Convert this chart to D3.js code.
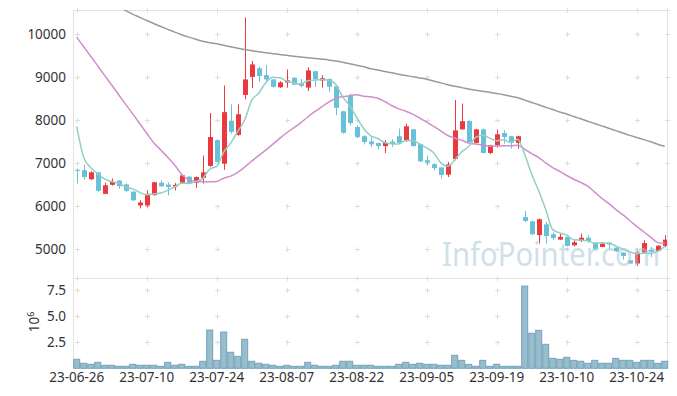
<!DOCTYPE html>
<html>
<head>
<meta charset="utf-8">
<script src="https://cdn.jsdelivr.net/npm/d3@7"></script>
<style>
    body { margin: 0; background: #fff; }
    svg text { font-family: "Noto Sans", "Liberation Sans", sans-serif; }
</style>
</head>
<body>
<svg id="chart" width="677" height="396"></svg>
<script>
// trading days 2023-06-26 .. 2023-10-30
const dates = [
    "23-06-26","23-06-27","23-06-28","23-06-29","23-06-30",
    "23-07-03","23-07-04","23-07-05","23-07-06","23-07-07",
    "23-07-10","23-07-11","23-07-12","23-07-13","23-07-14",
    "23-07-17","23-07-18","23-07-19","23-07-20","23-07-21",
    "23-07-24","23-07-25","23-07-26","23-07-27","23-07-28",
    "23-07-31","23-08-01","23-08-02","23-08-03","23-08-04",
    "23-08-07","23-08-08","23-08-09","23-08-10","23-08-11",
    "23-08-14","23-08-16","23-08-17","23-08-18","23-08-21",
    "23-08-22","23-08-23","23-08-24","23-08-25","23-08-28",
    "23-08-29","23-08-30","23-08-31","23-09-01","23-09-04",
    "23-09-05","23-09-06","23-09-07","23-09-08","23-09-11",
    "23-09-12","23-09-13","23-09-14","23-09-15","23-09-18",
    "23-09-19","23-09-20","23-09-21","23-09-22","23-09-25",
    "23-09-26","23-09-27","23-10-04","23-10-05","23-10-06",
    "23-10-10","23-10-11","23-10-12","23-10-13","23-10-16",
    "23-10-17","23-10-18","23-10-19","23-10-20","23-10-23",
    "23-10-24","23-10-25","23-10-26","23-10-27","23-10-30"
];

const open = [
    6850, 6840, 6630, 6790, 6290, 6500, 6600, 6510, 6340, 6020,
    6020, 6260, 6550, 6505, 6460, 6550, 6690, 6550, 6660, 6940,
    7540, 6990, 7990, 7660, 8590, 9010, 9210, 9050, 8950, 8770,
    8880, 8990, 8860, 8760, 9140, 8925, 8960, 8790, 8210, 8590,
    7845, 7630, 7510, 7470, 7400, 7505, 7630, 7520, 7790, 7450,
    7070, 6980, 6905, 6735, 7100, 7790, 7985, 7475, 7790, 7240,
    7420, 7705, 7630, 7475, 5750, 5650, 5330, 5580, 5350, 5225,
    5290, 5095, 5195, 5270, 5155, 5055, 5155, 5040, 4925, 4745,
    4670, 4925, 4990, 4960, 5080
];
const high = [
    6880, 6970, 6815, 6800, 6550, 6645, 6610, 6530, 6350, 6140,
    6370, 6570, 6600, 6560, 6540, 6740, 6700, 6690, 7180, 8170,
    7560, 8810, 8370, 8370, 10390, 9380, 9250, 9280, 8960, 8910,
    9180, 9000, 8960, 9230, 9150, 9050, 8975, 8800, 8220, 8620,
    7880, 7650, 7605, 7480, 7540, 7560, 7810, 7920, 7800, 7460,
    7180, 7000, 6910, 7030, 8470, 8390, 8000, 7800, 7810, 7430,
    7785, 7770, 7640, 7640, 5890, 5660, 5715, 5640, 5390, 5360,
    5300, 5210, 5365, 5330, 5160, 5150, 5160, 5045, 4930, 4750,
    4960, 5210, 5055, 5090, 5325
];
const low = [
    6530, 6620, 6605, 6340, 6280, 6480, 6410, 6330, 6120, 5950,
    5980, 6250, 6450, 6255, 6370, 6530, 6520, 6430, 6530, 6920,
    7020, 6850, 7690, 7640, 8490, 8750, 8890, 8890, 8760, 8750,
    8760, 8820, 8770, 8680, 8780, 8760, 8660, 8120, 7690, 7880,
    7580, 7440, 7380, 7330, 7240, 7380, 7470, 7500, 7390, 7030,
    6950, 6840, 6645, 6680, 7070, 7780, 7490, 7465, 7230, 7210,
    7365, 7460, 7340, 7340, 5635, 5340, 5135, 5135, 5210, 5220,
    5070, 5070, 5170, 5150, 4990, 5050, 5015, 4940, 4760, 4660,
    4610, 4900, 4820, 4950, 5055
];
const close = [
    6830, 6680, 6790, 6360, 6490, 6565, 6470, 6360, 6140, 6090,
    6290, 6560, 6465, 6450, 6500, 6720, 6530, 6680, 6790, 7610,
    7030, 8190, 7730, 8140, 8950, 9300, 9030, 8950, 8780, 8880,
    8930, 8830, 8800, 9160, 8960, 8980, 8780, 8290, 7710, 7935,
    7610, 7495, 7440, 7400, 7480, 7450, 7475, 7860, 7400, 7045,
    7015, 6890, 6730, 6975, 7765, 7980, 7495, 7790, 7240, 7420,
    7675, 7610, 7475, 7630, 5660, 5350, 5700, 5310, 5265, 5290,
    5080, 5165, 5270, 5195, 5000, 5130, 5110, 4955, 4845, 4670,
    4925, 5145, 4940, 5085, 5225
];
const volume = [
    860000, 480000, 380000, 570000, 290000, 290000, 190000, 190000, 380000, 290000,
    290000, 290000, 190000, 570000, 290000, 380000, 190000, 190000, 670000, 3650000,
    760000, 3460000, 1530000, 1140000, 2770000, 670000, 480000, 380000, 290000, 190000,
    290000, 190000, 190000, 570000, 290000, 190000, 190000, 290000, 670000, 670000,
    290000, 290000, 290000, 190000, 190000, 190000, 380000, 570000, 380000, 480000,
    380000, 380000, 290000, 290000, 1240000, 760000, 380000, 190000, 760000, 190000,
    380000, 190000, 190000, 190000, 7850000, 3340000, 3620000, 2290000, 950000, 860000,
    1050000, 760000, 670000, 480000, 760000, 480000, 480000, 950000, 760000, 760000,
    570000, 760000, 760000, 480000, 670000
];

// moving averages as shown on the chart
const ma5 = [
    7860, 7140, 6900, 6760, 6630, 6577, 6535, 6449, 6405, 6325,
    6270, 6288, 6309, 6371, 6453, 6539, 6533, 6576, 6644, 6866,
    6928, 7260, 7470, 7740, 8008, 8462, 8630, 8874, 9002, 8988,
    8914, 8874, 8844, 8920, 8936, 8946, 8936, 8834, 8544, 8339,
    8065, 7808, 7638, 7576, 7485, 7453, 7449, 7533, 7533, 7446,
    7359, 7242, 7016, 6931, 7075, 7268, 7389, 7601, 7654, 7585,
    7524, 7547, 7484, 7562, 7210, 6745, 6363, 5930, 5457, 5383,
    5329, 5222, 5214, 5200, 5142, 5152, 5141, 5078, 5008, 4942,
    4901, 4908, 4905, 4953, 5064
];
const ma20 = [
    9930, 9710, 9490, 9265, 9040, 8820, 8595, 8370, 8150, 7925,
    7700, 7480, 7310, 7140, 6960, 6740, 6620, 6580, 6570, 6569,
    6579, 6654, 6701, 6790, 6913, 7050, 7178, 7307, 7439, 7579,
    7711, 7824, 7941, 8077, 8200, 8313, 8425, 8506, 8552, 8568,
    8597, 8562, 8548, 8511, 8437, 8345, 8267, 8212, 8143, 8052,
    7956, 7859, 7755, 7646, 7586, 7536, 7472, 7447, 7424, 7398,
    7401, 7407, 7409, 7420, 7329, 7224, 7135, 7008, 6901, 6813,
    6717, 6630, 6557, 6468, 6330, 6188, 6068, 5927, 5807, 5669,
    5532, 5409, 5282, 5155, 5133
];
const ma120 = [
    11100, 11020, 10940, 10860, 10780, 10700, 10625, 10550, 10470, 10395,
    10320, 10250, 10180, 10115, 10050, 9990, 9935, 9885, 9840, 9805,
    9780, 9745, 9710, 9675, 9645, 9620, 9595, 9570, 9550, 9530,
    9510, 9490, 9472, 9455, 9438, 9422, 9405, 9380, 9350, 9315,
    9280, 9245, 9200, 9170, 9135, 9105, 9070, 9040, 9015, 8985,
    8955, 8915, 8870, 8828, 8790, 8760, 8727, 8700, 8675, 8650,
    8625, 8595, 8560, 8525, 8470, 8415, 8360, 8305, 8250, 8195,
    8145, 8090, 8035, 7980, 7925, 7870, 7815, 7760, 7705, 7650,
    7600, 7550, 7500, 7445, 7395
];

const priceTicks = [5000, 6000, 7000, 8000, 9000, 10000];
const volumeTicks = [2500000, 5000000, 7500000];
const dateTicks = ["23-06-26","23-07-10","23-07-24","23-08-07","23-08-22","23-09-05","23-09-19","23-10-10","23-10-24"];

const plotLeft = 73, plotRight = 667, plotTop = 10, plotSplit = 278, plotBottom = 368;
const upColor = "#ea3a40", downColor = "#67c1d7";

const svg = d3.select("#chart");

const x = d3.scaleBand().domain(dates).range([73.2, 668.2]).padding(0);
const yPrice = d3.scaleLinear().domain([4333, 10565]).range([plotSplit, plotTop]);
const yVol = d3.scaleLinear().domain([0, 8620000]).range([plotBottom + 0.3, plotSplit]);
const cx = d => x(d) + x.bandwidth() / 2;

svg.append("defs").append("clipPath").attr("id", "priceClip")
    .append("rect")
    .attr("x", plotLeft).attr("y", plotTop)
    .attr("width", plotRight - plotLeft).attr("height", plotSplit - plotTop);

// frame
const frame = svg.append("g").attr("stroke", "#e4e4e4").attr("stroke-width", 1);
frame.append("line").attr("x1", plotLeft).attr("x2", plotRight).attr("y1", plotTop + 0.5).attr("y2", plotTop + 0.5);
frame.append("line").attr("x1", plotLeft).attr("x2", plotRight).attr("y1", plotSplit + 0.5).attr("y2", plotSplit + 0.5);
frame.append("line").attr("x1", plotLeft + 0.5).attr("x2", plotLeft + 0.5).attr("y1", plotTop).attr("y2", plotBottom);
frame.append("line").attr("x1", plotRight + 0.5).attr("x2", plotRight + 0.5).attr("y1", plotTop).attr("y2", plotBottom);

// little "+" grid marks
const levels = [plotTop, plotSplit].concat(priceTicks.map(yPrice), volumeTicks.map(yVol));
const xs = dateTicks.map(cx).concat([plotRight]);
const marks = svg.append("g").attr("stroke", "#dedede").attr("stroke-width", 1);
xs.forEach(px => {
    levels.forEach(py => {
        const mx = Math.round(px) + 0.5, my = Math.round(py) + 0.5;
        marks.append("line").attr("x1", mx - 2.5).attr("x2", mx + 2.5).attr("y1", my).attr("y2", my);
        marks.append("line").attr("x1", mx).attr("x2", mx).attr("y1", my - 2.5).attr("y2", my + 2.5);
    });
});

// candles
const candles = svg.append("g").attr("clip-path", "url(#priceClip)");
dates.forEach((d, i) => {
    const color = close[i] >= open[i] ? upColor : downColor;
    candles.append("line")
        .attr("x1", Math.round(cx(d)) + 0.5).attr("x2", Math.round(cx(d)) + 0.5)
        .attr("y1", yPrice(high[i])).attr("y2", yPrice(low[i]))
        .attr("stroke", color).attr("stroke-width", 1);
    const y0 = yPrice(Math.max(open[i], close[i]));
    const y1 = yPrice(Math.min(open[i], close[i]));
    candles.append("rect")
        .attr("x", Math.round(cx(d)) - 2).attr("width", 5)
        .attr("y", y0).attr("height", Math.max(1, y1 - y0))
        .attr("fill", color);
});

// moving averages
const lineGen = arr => d3.line().x((d, i) => cx(dates[i])).y(d => yPrice(d)).curve(d3.curveMonotoneX)(arr);
const lines = svg.append("g").attr("clip-path", "url(#priceClip)").attr("fill", "none").attr("stroke-width", 1.5);
lines.append("path").attr("d", lineGen(ma120)).attr("stroke", "#9a9a9a");
lines.append("path").attr("d", lineGen(ma20)).attr("stroke", "#cf8fca");
lines.append("path").attr("d", lineGen(ma5)).attr("stroke", "#93cfc6");

// volume bars
svg.append("g").selectAll("rect")
    .data(volume)
    .join("rect")
    .attr("x", (d, i) => x(dates[i]) + 0.5)
    .attr("width", x.bandwidth() - 1)
    .attr("y", d => yVol(d))
    .attr("height", d => yVol(0) - yVol(d))
    .attr("fill", "#98bdcd")
    .attr("stroke", "#74a2ba")
    .attr("stroke-width", 1);

// axes
const styleAxis = g => {
    g.select(".domain").remove();
    g.selectAll("text").attr("fill", "#333").style("font-size", "13.5px");
};
svg.append("g").attr("transform", `translate(${plotLeft},0)`)
    .call(d3.axisLeft(yPrice).tickValues(priceTicks).tickSize(0).tickPadding(7).tickFormat(d3.format("d")))
    .call(styleAxis);
svg.append("g").attr("transform", `translate(${plotLeft},0)`)
    .call(d3.axisLeft(yVol).tickValues(volumeTicks).tickSize(0).tickPadding(7).tickFormat(d => (d / 1e6).toFixed(1)))
    .call(styleAxis);
svg.append("g").attr("transform", `translate(0,${plotBottom})`)
    .call(d3.axisBottom(x).tickValues(dateTicks).tickSize(0).tickPadding(4))
    .call(styleAxis);

const unit = svg.append("text")
    .attr("transform", "translate(38.5,322) rotate(-90)")
    .attr("text-anchor", "middle")
    .attr("fill", "#333")
    .style("font-size", "13.5px");
unit.append("tspan").text("10");
unit.append("tspan").attr("dy", "-0.5em").style("font-size", "9px").text("6");

// watermark
svg.append("text")
    .attr("x", 442).attr("y", 266)
    .attr("textLength", 218).attr("lengthAdjust", "spacingAndGlyphs")
    .attr("fill", "#a9c8d8").attr("opacity", 0.55)
    .style("font-size", "32px")
    .text("InfoPointer.com");
</script>
</body>
</html>
